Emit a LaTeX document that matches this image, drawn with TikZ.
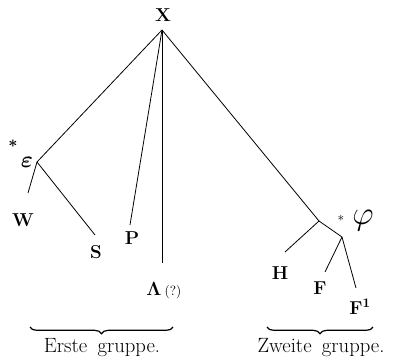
\documentclass[tikz,border=0pt]{standalone}
\usepackage[no-math]{fontspec}
\usetikzlibrary{decorations.pathreplacing}

\begin{document}
\begin{tikzpicture}[
  x=0.75pt, y=-0.75pt,
  line width=0.6pt,
  sigil/.style={font=\fontsize{14}{16}\selectfont\bfseries, inner sep=0pt},
  lostms/.style={font=\fontsize{18}{20}\selectfont\boldmath, inner sep=0pt},
  starmark/.style={font=\fontsize{13}{14}\selectfont\boldmath, inner sep=0pt},
  groupbrace/.style={decorate, decoration={brace, mirror, amplitude=5pt},
                     line width=0.9pt},
  grouplabel/.style={font=\fontsize{15.5}{17}\selectfont\addfontfeature{LetterSpace=70},
                     inner sep=0pt}
]
  \useasboundingbox (0,0) rectangle (394,364);

  % archetype and lost intermediates
  \node[sigil] (X) at (163,15) {X};
  \coordinate (x) at (162,30);
  \coordinate (eps) at (37,162);
  \coordinate (fork) at (319,221);
  \coordinate (phi) at (342,237);
  \node[lostms] (epslabel) at (27,162) {$\varepsilon$};
  \node[starmark] (epsstar) at (13,144) {$\ast$};
  \node[lostms, font=\fontsize{26}{28}\selectfont] (philabel) at (363,221) {$\varphi$};
  \node[starmark, font=\fontsize{10}{11}\selectfont] (phistar) at (341,218) {$\ast$};

  % line ends
  \coordinate (wend) at (28,193);
  \coordinate (send) at (95,235);
  \coordinate (pend) at (130,225);
  \coordinate (lend) at (162,263);
  \coordinate (hend) at (285,252);
  \coordinate (fend) at (325,272);
  \coordinate (fiend) at (356,288);

  % manuscripts
  \node[sigil] (W) at (23,220) {W};
  \node[sigil] (S) at (96,252) {S};
  \node[sigil] (P) at (132,238) {P};
  \node[sigil, anchor=base west] (L) at (146,296)
    {$\mathbf{\Lambda}$\,{\fontsize{10}{11}\selectfont\mdseries(?)}};
  \node[sigil] (H) at (280,273) {H};
  \node[sigil] (F) at (320,288) {F};
  \node[sigil] (F1) at (360,307) {F\textsuperscript{1}};

  \foreach \a/\b in {x/eps, eps/wend, eps/send, x/pend, x/lend,
                     x/fork, fork/hend, fork/phi, phi/fend, phi/fiend} {
    \draw (\a) -- (\b);
  }

  % groups
  \coordinate (g1l) at (30,327);
  \coordinate (g1r) at (173,327);
  \coordinate (g2l) at (267,327);
  \coordinate (g2r) at (373,327);
  \draw[groupbrace] (g1l) -- (g1r);
  \draw[groupbrace] (g2l) -- (g2r);
  \node[grouplabel, anchor=base] (g1) at (102,353) {Erste\hspace{3pt} gruppe.};
  \node[grouplabel, anchor=base] (g2) at (321,353) {Zweite\hspace{3pt} gruppe.};
\end{tikzpicture}
\end{document}
